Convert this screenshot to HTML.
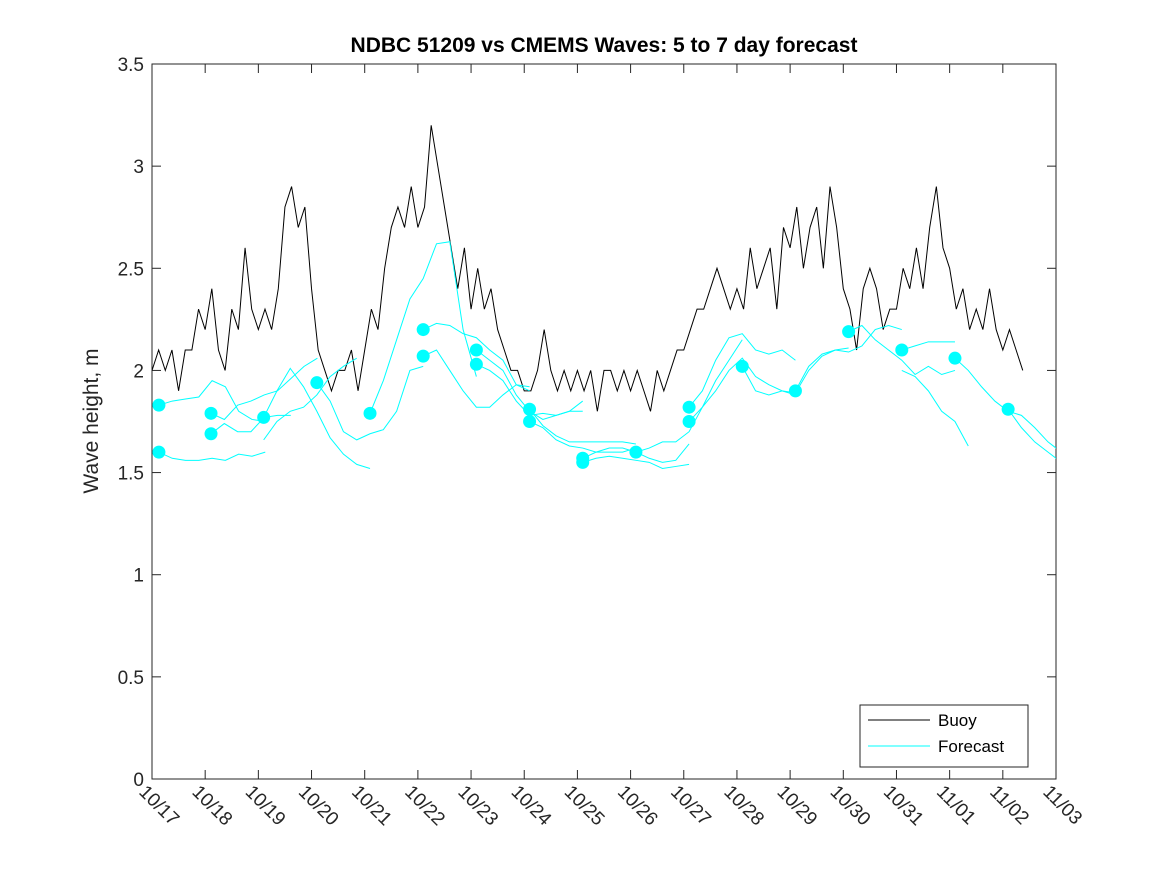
<!DOCTYPE html>
<html><head><meta charset="utf-8"><style>
body{margin:0;background:#fff;font-family:"Liberation Sans",sans-serif;}
</style></head><body>
<svg id="chart" width="1167" height="875" xmlns="http://www.w3.org/2000/svg" font-family="Liberation Sans, sans-serif">
<rect width="1167" height="875" fill="#fff"/>
<defs><clipPath id="pc"><rect x="152" y="64" width="904" height="715"/></clipPath></defs>
<text x="604" y="52" text-anchor="middle" font-size="21" font-weight="bold" fill="#000">NDBC 51209 vs CMEMS Waves: 5 to 7 day forecast</text>
<text transform="translate(98,421) rotate(-90)" text-anchor="middle" font-size="21" fill="#262626">Wave height, m</text>
<g id="plot"></g>
</svg>
<script>
const xTickLabels=["10/17","10/18","10/19","10/20","10/21","10/22","10/23","10/24","10/25","10/26","10/27","10/28","10/29","10/30","10/31","11/01","11/02","11/03"];
const yTicks=[0,0.5,1,1.5,2,2.5,3,3.5];
const buoyStep=0.125;
const buoyValues=[
2.0,2.1,2.0,2.1,1.9,2.1,2.1,2.3,
2.2,2.4,2.1,2.0,2.3,2.2,2.6,2.3,
2.2,2.3,2.2,2.4,2.8,2.9,2.7,2.8,
2.4,2.1,2.0,1.9,2.0,2.0,2.1,1.9,
2.1,2.3,2.2,2.5,2.7,2.8,2.7,2.9,
2.7,2.8,3.2,3.0,2.8,2.6,2.4,2.6,
2.3,2.5,2.3,2.4,2.2,2.1,2.0,2.0,
1.9,1.9,2.0,2.2,2.0,1.9,2.0,1.9,
2.0,1.9,2.0,1.8,2.0,2.0,1.9,2.0,
1.9,2.0,1.9,1.8,2.0,1.9,2.0,2.1,
2.1,2.2,2.3,2.3,2.4,2.5,2.4,2.3,
2.4,2.3,2.6,2.4,2.5,2.6,2.3,2.7,
2.6,2.8,2.5,2.7,2.8,2.5,2.9,2.7,
2.4,2.3,2.1,2.4,2.5,2.4,2.2,2.3,
2.3,2.5,2.4,2.6,2.4,2.7,2.9,2.6,
2.5,2.3,2.4,2.2,2.3,2.2,2.4,2.2,
2.1,2.2,2.1,2.0];
const fcStarts=[0.13,0.13,1.11,1.11,2.1,2.1,3.1,4.1,5.1,5.1,6.1,6.1,7.1,7.1,8.1,8.1,9.1,10.1,10.1,11.1,12.1,13.1,14.1,14.1,15.1,16.1];
const fcSeries=[
[1.83,1.85,1.86,1.87,1.95,1.92,1.80,1.76,1.75],
[1.60,1.57,1.56,1.56,1.57,1.56,1.59,1.58,1.60],
[1.79,1.76,1.83,1.85,1.88,1.90,1.96,2.02,2.06],
[1.69,1.74,1.70,1.70,1.77,1.78,1.78],
[1.77,1.90,2.01,1.92,1.80,1.67,1.59,1.54,1.52],
[1.66,1.75,1.80,1.82,1.88,1.97,2.02,2.06],
[1.94,1.85,1.70,1.66,1.69,1.71,1.80,2.00,2.02],
[1.79,1.95,2.15,2.35,2.45,2.62,2.63,2.20,1.97],
[2.20,2.23,2.22,2.18,2.16,2.10,2.05,1.93,1.90],
[2.07,2.10,2.00,1.90,1.82,1.82,1.88,1.93,1.92],
[2.10,2.05,2.00,1.88,1.80,1.76,1.78,1.80,1.80],
[2.03,2.00,1.95,1.85,1.78,1.79,1.78,1.80,1.85],
[1.81,1.73,1.68,1.65,1.65,1.65,1.65,1.65,1.64],
[1.75,1.72,1.66,1.63,1.62,1.60,1.60,1.60,1.62],
[1.57,1.60,1.62,1.62,1.60,1.57,1.55,1.56,1.64],
[1.55,1.57,1.58,1.57,1.56,1.55,1.52,1.53,1.54],
[1.60,1.62,1.65,1.65,1.70,1.82,1.95,2.05,2.15],
[1.82,1.90,2.05,2.16,2.18,2.10,2.08,2.10,2.05],
[1.75,1.82,1.90,2.00,2.06,1.97,1.93,1.90,1.88],
[2.02,1.90,1.88,1.90,1.89,2.00,2.07,2.10,2.11],
[1.90,2.02,2.08,2.10,2.09,2.12,2.20,2.22,2.20],
[2.19,2.22,2.15,2.10,2.05,1.98,2.02,1.98,2.00],
[2.10,2.12,2.14,2.14,2.14],
[2.00,1.97,1.90,1.80,1.75,1.63],
[2.06,2.00,1.92,1.85,1.80,1.78,1.72,1.65,1.60],
[1.81,1.72,1.65,1.60,1.55,1.53,1.52]
];
const fcDots=[[0.13,1.83],[0.13,1.60],[1.11,1.79],[1.11,1.69],[2.1,1.77],[3.1,1.94],[4.1,1.79],[5.1,2.20],[5.1,2.07],[6.1,2.10],[6.1,2.03],[7.1,1.81],[7.1,1.75],[8.1,1.57],[8.1,1.55],[9.1,1.60],[10.1,1.82],[10.1,1.75],[11.1,2.02],[12.1,1.90],[13.1,2.19],[14.1,2.10],[15.1,2.06],[16.1,1.81]];

const L=152,R=1056,T=64,B=779;
const X=d=>L+d*(R-L)/17, Y=v=>B-v*(B-T)/3.5;
const NS="http://www.w3.org/2000/svg";
const g=document.getElementById('plot');
function mk(t,a,p){const e=document.createElementNS(NS,t);for(const k in a)e.setAttribute(k,a[k]);(p||g).appendChild(e);return e;}
const frame=mk('rect',{x:L,y:T,width:R-L,height:B-T,fill:'#fff',stroke:'#262626','stroke-width':1});


yTicks.forEach(v=>{
 const y=Y(v);
 mk('line',{x1:L,x2:L+9,y1:y,y2:y,stroke:'#262626'});
 mk('line',{x1:R,x2:R-9,y1:y,y2:y,stroke:'#262626'});
 const t=mk('text',{x:L-8,y:y+7,'text-anchor':'end','font-size':19,fill:'#262626'});
 t.textContent=String(v);
 
 
});
xTickLabels.forEach((s,i)=>{
 const x=X(i);
 mk('line',{x1:x,x2:x,y1:B,y2:B-9,stroke:'#262626'});
 mk('line',{x1:x,x2:x,y1:T,y2:T+9,stroke:'#262626'});
 const t=mk('text',{transform:`translate(${x-14},${B+14}) rotate(45)`,'font-size':19,fill:'#262626'});
 t.textContent=s;
 
 
});
const cg=mk('g',{'clip-path':'url(#pc)'});
const bp=mk('polyline',{points:buoyValues.map((v,i)=>X(i*buoyStep)+','+Y(v)).join(' '),fill:'none',stroke:'#000','stroke-width':1},cg);


fcSeries.forEach((s,j)=>{
 const p=mk('polyline',{points:s.map((v,i)=>X(fcStarts[j]+i*0.25)+','+Y(v)).join(' '),fill:'none',stroke:'#00ffff','stroke-width':1},cg);
 
 
});
fcDots.forEach(d=>{
 const c=mk('circle',{cx:X(d[0]),cy:Y(d[1]),r:6.5,fill:'#00ffff'},cg);
 
 
});
const lg=mk('rect',{x:860,y:705,width:168,height:62,fill:'#fff',stroke:'#262626'});


mk('line',{x1:868,x2:930,y1:720,y2:720,stroke:'#000'});
mk('line',{x1:868,x2:930,y1:746,y2:746,stroke:'#00ffff'});
const l1=mk('text',{x:938,y:726,'font-size':17,fill:'#000'});l1.textContent='Buoy';


const l2=mk('text',{x:938,y:752,'font-size':17,fill:'#000'});l2.textContent='Forecast';


</script>
</body></html>
